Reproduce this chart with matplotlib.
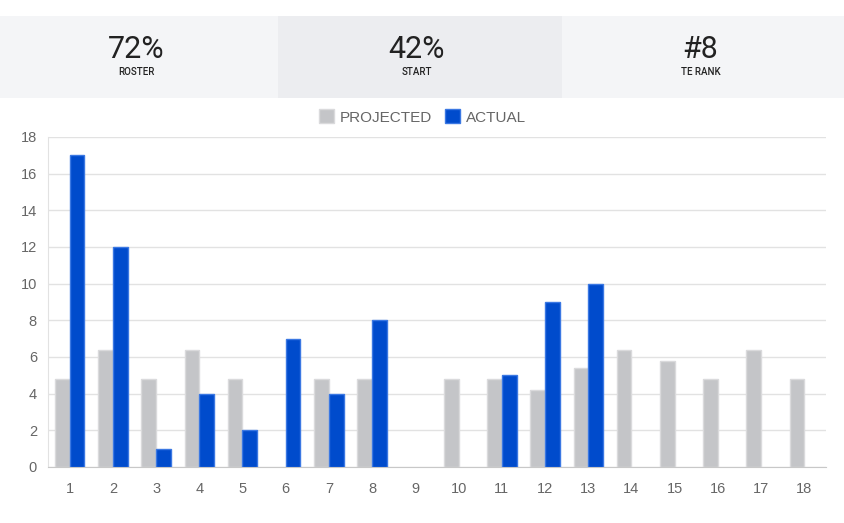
import numpy as np
from matplotlib import pyplot as plt
from matplotlib.patches import Rectangle

weeks = list(range(1, 19))
projected = [4.8, 6.4, 4.8, 6.4, 4.8, 0, 4.8, 4.8, 0, 4.8, 4.8, 4.2, 5.4, 6.4, 5.8, 4.8, 6.4, 4.8]
actual = [17, 12, 1, 4, 2, 7, 4, 8, 0, 0, 5, 9, 10, 0, 0, 0, 0, 0]

stat_values = ["72%", "42%", "#8"]
stat_labels = ["ROSTER", "START", "TE RANK"]
stat_colors = ["#f4f5f7", "#ecedf0", "#f4f5f7"]

plt.rcParams['font.family'] = ['Liberation Sans', 'DejaVu Sans']

W, H = 845, 523
fig = plt.figure(figsize=(W / 100, H / 100), dpi=100)
fig.patch.set_facecolor("white")

# header boxes
edges = [0, 278, 562, 845]
for i in range(3):
    x0 = edges[i] / W
    w = (edges[i + 1] - edges[i]) / W
    fig.patches.append(Rectangle((x0, 1 - 98 / H), w, 82 / H, transform=fig.transFigure,
                                 facecolor=stat_colors[i], edgecolor="none", zorder=0))
    cx = x0 + w / 2 - 3 / W
    fig.text(cx, 1 - 50 / H, stat_values[i], ha="center", va="center", fontsize=22,
             color="#222222", family=["Roboto", "DejaVu Sans"])
    fig.text(cx, 1 - 72 / H, stat_labels[i], ha="center", va="center", fontsize=7,
             color="#222222", fontweight="medium", family=["Roboto", "DejaVu Sans"])

ax = fig.add_axes([48 / W, 56 / H, (826 - 48) / W, (467 - 137) / H])
x = np.arange(len(weeks))
bw = 0.34
proj = np.array(projected)
act = np.array(actual)
mp = proj > 0
ma = act > 0
ax.bar(x[mp] - bw / 2, proj[mp], width=bw, color="#c4c5c8", edgecolor="#dadadc",
       linewidth=1, zorder=3, label="PROJECTED")
ax.bar(x[ma] + bw / 2, act[ma], width=bw, color="#004bcc", edgecolor="#3b78e3",
       linewidth=1, zorder=3, label="ACTUAL")

ax.set_xlim(-0.5, len(weeks) - 0.5)
ax.set_ylim(0, 18)
ax.set_yticks(range(0, 19, 2))
ax.set_xticks(x)
ax.set_xticklabels([str(w) for w in weeks])
ax.grid(axis="y", color="#e2e2e2", linewidth=1, zorder=0)
ax.tick_params(axis="both", length=0, labelsize=10.5, colors="#666666")
ax.tick_params(axis="x", pad=11)
ax.tick_params(axis="y", pad=8)
for s in ["top", "right"]:
    ax.spines[s].set_visible(False)
ax.spines["left"].set_color("#e2e2e2")
ax.spines["bottom"].set_color("#c8c8c8")

handles, labels = ax.get_legend_handles_labels()
leg = fig.legend(handles, labels, loc="center", bbox_to_anchor=(0.5, 1 - 117 / H), ncol=2,
                 frameon=False, fontsize=11, handlelength=1.0, handleheight=1.0,
                 handletextpad=0.4, columnspacing=0.8)
for t in leg.get_texts():
    t.set_color("#666666")

fig.savefig("out.png", dpi=100)
